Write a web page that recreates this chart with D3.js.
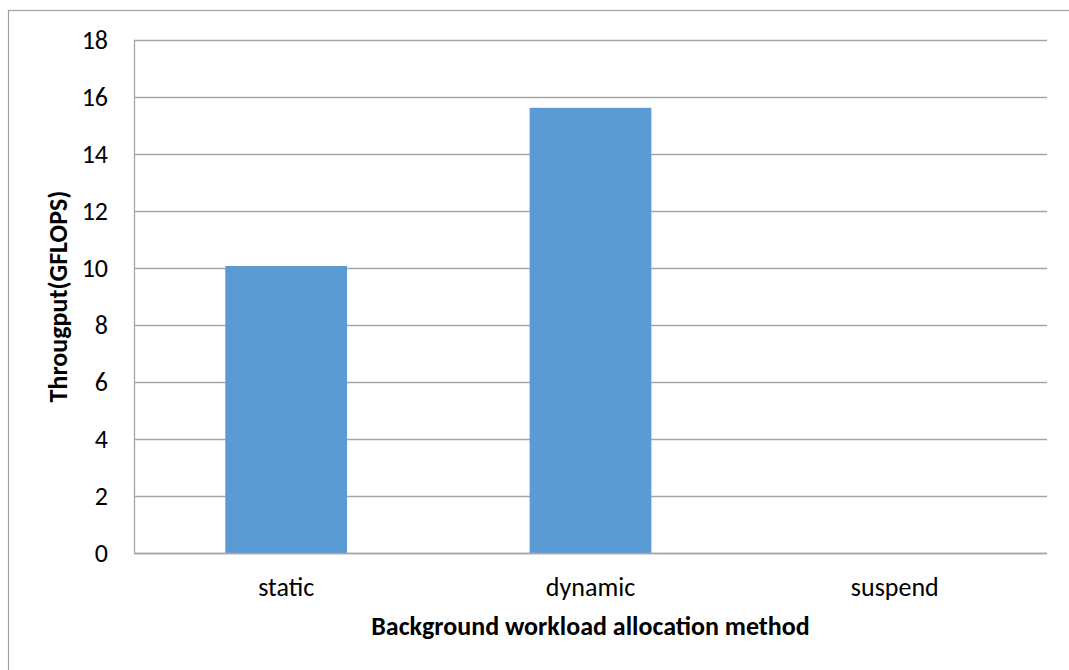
<!DOCTYPE html>
<html>
<head>
<meta charset="utf-8">
<script src="https://cdn.jsdelivr.net/npm/d3@7"></script>
<style>
  html, body { margin: 0; padding: 0; background: #fff; }
  svg { display: block; }
  text { font-family: Carlito, Calibri, Lato, "Open Sans", sans-serif; fill: #000; }
</style>
</head>
<body>
<svg id="chart" width="1069" height="670"></svg>
<script>
const categories = ["static", "dynamic", "suspend"];
const values = [10.07, 15.62, 0];
const yTicks = [0, 2, 4, 6, 8, 10, 12, 14, 16, 18];
const xTitle = "Background workload allocation method";
const yTitle = "Througput(GFLOPS)";

const svg = d3.select("#chart");
const m = { left: 134, right: 1047, top: 40, bottom: 553 };

// outer chart frame
svg.append("rect")
  .attr("x", 8.5).attr("y", 10.5)
  .attr("width", 1200).attr("height", 800)
  .attr("fill", "#fff").attr("stroke", "#a0a0a0").attr("stroke-width", 1.2);

const x = d3.scaleBand().domain(categories).range([m.left, m.right]).paddingInner(0.6).paddingOuter(0.3);
const y = d3.scaleLinear().domain([0, 18]).range([m.bottom, m.top]);

// gridlines
svg.append("g").selectAll("line").data(yTicks).join("line")
  .attr("x1", m.left).attr("x2", m.right)
  .attr("y1", d => Math.round(y(d)) + 0.5).attr("y2", d => Math.round(y(d)) + 0.5)
  .attr("stroke", "#a6a6a6").attr("stroke-width", 1.3);

// left axis line
svg.append("line")
  .attr("x1", m.left + 0.5).attr("x2", m.left + 0.5)
  .attr("y1", m.top).attr("y2", m.bottom)
  .attr("stroke", "#a6a6a6").attr("stroke-width", 1.3);

// bars
svg.append("g").selectAll("rect").data(categories).join("rect")
  .attr("x", d => x(d))
  .attr("width", x.bandwidth())
  .attr("y", (d, i) => y(values[i]))
  .attr("height", (d, i) => y(0) - y(values[i]))
  .attr("fill", "#5b9bd5");

// bottom axis line (over bars)
svg.append("line")
  .attr("x1", m.left).attr("x2", m.right)
  .attr("y1", Math.round(y(0)) + 0.5).attr("y2", Math.round(y(0)) + 0.5)
  .attr("stroke", "#a6a6a6").attr("stroke-width", 1.3);

// y tick labels
svg.append("g").selectAll("text").data(yTicks).join("text")
  .attr("x", 108).attr("y", d => y(d))
  .attr("dy", "0.36em")
  .attr("text-anchor", "end")
  .style("font-size", "26px")
  .text(d => d);

// x tick labels
svg.append("g").selectAll("text").data(categories).join("text")
  .attr("x", d => x(d) + x.bandwidth() / 2)
  .attr("y", 596)
  .attr("text-anchor", "middle")
  .style("font-size", "26px")
  .text(d => d);

// x title
svg.append("text")
  .attr("x", (m.left + m.right) / 2).attr("y", 635)
  .attr("text-anchor", "middle")
  .style("font-size", "26px").style("font-weight", "bold")
  .text(xTitle);

// y title
svg.append("text")
  .attr("transform", `translate(67,${(m.top + m.bottom) / 2}) rotate(-90)`)
  .attr("text-anchor", "middle")
  .style("font-size", "26px").style("font-weight", "bold")
  .text(yTitle);
</script>
</body>
</html>
